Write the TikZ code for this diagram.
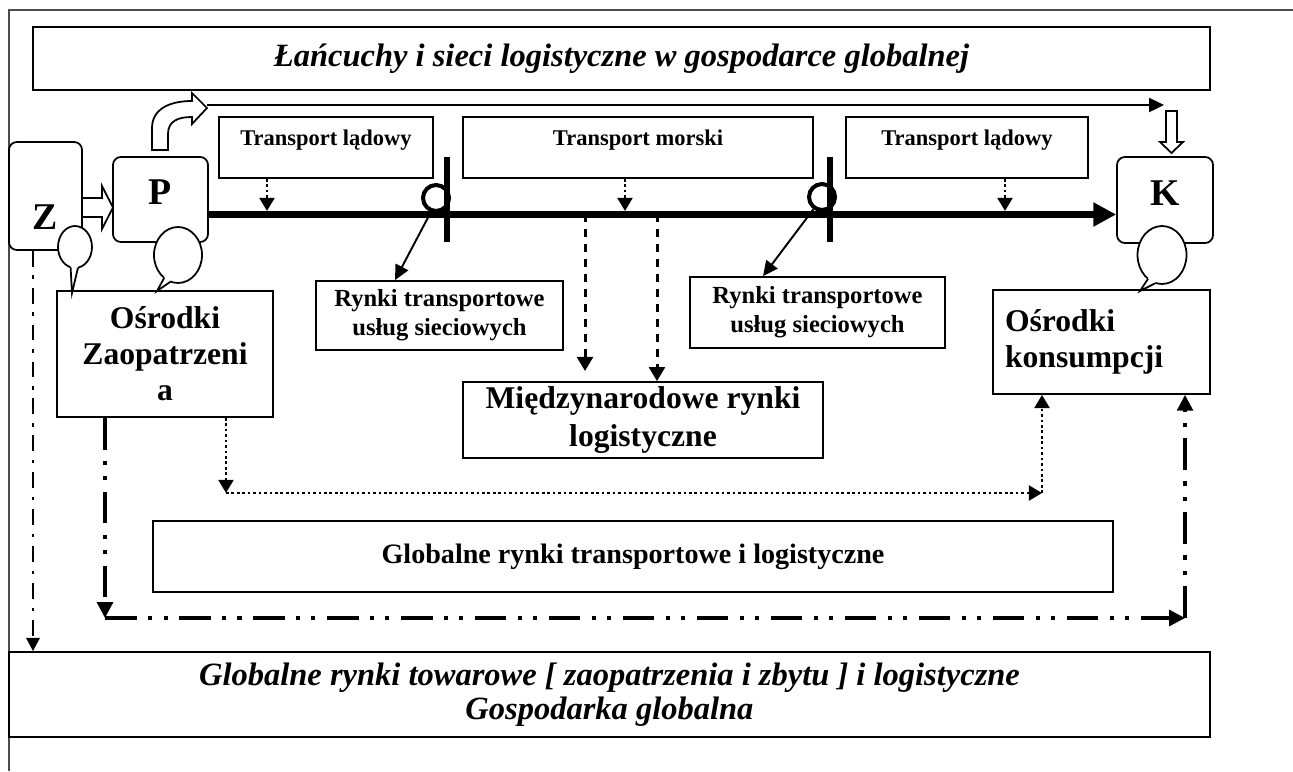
\documentclass[tikz,border=0pt]{standalone}
\usepackage{fontspec}
\setmainfont{Liberation Serif}
\usetikzlibrary{arrows.meta, positioning, calc}

\begin{document}
\begin{tikzpicture}[x=0.02cm, y=-0.02cm,
  wh/.style 2 args={minimum width=#1*0.02cm, minimum height=#2*0.02cm},
  box/.style={draw, line width=1pt, inner sep=0pt, align=center},
  rbox/.style={box, rounded corners=4.5pt, font=\bfseries\fontsize{21.5}{24}\selectfont},
  small/.style={font=\bfseries\fontsize{12.8}{16}\selectfont},
  mid/.style={font=\bfseries\fontsize{14}{16.5}\selectfont},
  big/.style={font=\bfseries\fontsize{18}{20.5}\selectfont},
  hollow/.style={draw, line width=1pt, fill=white},
  bubble/.style={draw, line width=1pt, fill=white},
  thinarrow/.style={line width=1.1pt, -{Triangle[length=8.5pt, width=8pt]}},
  dotarrow/.style={line width=1.5pt, dash pattern=on 1.5pt off 1.6pt, -{Triangle[length=7.5pt, width=8.5pt]}},
  dasharrow/.style={line width=1.7pt, dash pattern=on 4.5pt off 4pt, -{Triangle[length=8pt, width=9pt]}},
  ddarrow/.style={line width=1.8pt, dash pattern=on 18pt off 6.5pt on 2.3pt off 6.5pt on 2.3pt off 6.5pt, -{Triangle[length=9pt, width=9pt]}},
  zarrow/.style={line width=1.5pt, dash pattern=on 9pt off 5pt on 2pt off 5pt, -{Triangle[length=7.5pt, width=7.5pt]}},
  loopc/.style={circle, draw, line width=2.3pt, minimum size=0.52cm, inner sep=0pt},
  bar/.style={line width=3.4pt}
]
\useasboundingbox (0,0) rectangle (1293,771);
% page frame
\draw[black!70, line width=0.6pt] (9,771) -- (9,10) -- (1293,10);

% title and bottom boxes
\node[box, wh={1177}{63}, font=\bfseries\itshape\fontsize{18.5}{21}\selectfont] (title) at (621.5,58.5)
  {Łańcuchy i sieci logistyczne w gospodarce globalnej};
\node[box, wh={1201}{85}, font=\bfseries\itshape\fontsize{18.5}{19}\selectfont] (gtow) at (609.5,694.5)
  {Globalne rynki towarowe [ zaopatrzenia i zbytu ] i logistyczne\\Gospodarka globalna};

% Z, P, K
\node[rbox, wh={73}{108}, text height=40pt, text depth=1.4pt] (zbox) at (45.5,196) {Z};
\node[rbox, wh={95}{85}, text height=14.2pt, text depth=8pt] (pbox) at (160.5,199.5) {P};
\node[rbox, wh={96}{86}, text height=14.2pt, text depth=8pt] (kbox) at (1165,200) {K};

% transport
\node[box, small, wh={214}{61}, text height=9pt, text depth=11.5pt] (tl1) at (326,147.5) {Transport lądowy};
\node[box, small, wh={350}{61}, text height=9pt, text depth=11.5pt] (tm) at (638,147.5) {Transport morski};
\node[box, small, wh={242}{61}, text height=9pt, text depth=11.5pt] (tl2) at (967,147.5) {Transport lądowy};

% markets
\node[box, mid, wh={247}{69}] (rt1) at (439.5,315.5) {Rynki transportowe\\usług sieciowych};
\node[box, mid, wh={255}{71}] (rt2) at (817.5,312.5) {Rynki transportowe\\usług sieciowych};
\node[box, big, wh={216}{126}] (oz) at (165,354) {Ośrodki\\Zaopatrzeni\\a};
\node[box, big, wh={217}{104}, text width=3.86cm, align=left] (ok) at (1101.5,342) {Ośrodki\\konsumpcji};
\node[box, big, wh={360}{76}, font=\bfseries\fontsize{18}{21.5}\selectfont] (mr) at (643,420) {Międzynarodowe rynki\\logistyczne};
\node[box, wh={960}{71}, font=\bfseries\fontsize{16}{19}\selectfont] (grt) at (633,556.5) {Globalne rynki transportowe i logistyczne};

% main line
\coordinate (mainL) at ($(pbox.east)+(0,15)$);
\coordinate (mainR) at ($(kbox.west)+(0,14.5)$);
\draw[line width=4pt, -{Triangle[length=13pt, width=13pt]}] (mainL) -- (mainR);

% junctions
\draw[bar] (447,157) -- (447,242);
\draw[bar] (830,157) -- (830,242);
\node[loopc] (j1) at (436,198) {};
\node[loopc] (j2) at (822,197) {};
\draw[thinarrow] (j1.250) -- (rt1.north -| 395,0);
\draw[thinarrow] (j2.235) -- (rt2.north -| 763,0);

% transport to line
\draw[dotarrow, shorten >=2pt] (tl1.south -| 267,0) -- (mainL -| 267,0);
\draw[dotarrow, shorten >=2pt] (tm.south -| 625,0) -- (mainL -| 625,0);
\draw[dotarrow, shorten >=2pt] (tl2.south -| 1005,0) -- (mainL -| 1005,0);

% line to international markets
\coordinate (m1) at (585,371);
\draw[dasharrow] (mainL -| m1) -- (m1);
\draw[dasharrow] (mainL -| 657,0) -- (mr.north -| 657,0);

% hollow arrows
\draw[hollow] (82,198) -- (102,198) -- (102,186) -- (113,207.5) -- (102,229) -- (102,217) -- (82,217) -- cycle;
\draw[hollow] (152,150) -- (152,128) .. controls (152,110) and (168,101) .. (192,101) -- (192,93)
  -- (207,108) -- (192,124) -- (192,117) .. controls (178,117) and (168,121) .. (168,134) -- (168,150) -- cycle;
\draw[hollow] (1166,111) -- (1177,111) -- (1177,142) -- (1183,142) -- (1171.5,153) -- (1160,142) -- (1166,142) -- cycle;
\coordinate (ptip) at (207,105);
\draw[thinarrow] (ptip) -- (ptip -| 1164,0);

% bubbles
\draw[bubble] (75,247) ellipse [x radius=0.34cm, y radius=0.42cm];
\fill[white] (70.6,267.3) -- (72,293) -- (78,267.7) -- (77,263) -- (71,263) -- cycle;
\draw[line width=1pt] (70.6,267.3) -- (72,293) -- (78,267.7);
\draw[bubble] (178,255) ellipse [x radius=0.48cm, y radius=0.56cm];
\fill[white] (164.2,277.9) -- (157,291) -- (170.6,281.6) -- (171,277) -- (166,274) -- cycle;
\draw[line width=1pt] (164.2,277.9) -- (157,291) -- (170.6,281.6);
\draw[bubble] (1162,255) ellipse [x radius=0.49cm, y radius=0.58cm];
\fill[white] (1148,278.8) -- (1140,291) -- (1155.7,283) -- (1156,278) -- (1150,275) -- cycle;
\draw[line width=1pt] (1148,278.8) -- (1140,291) -- (1155.7,283);

% flows below
\coordinate (d1) at (226,493);
\coordinate (d2) at (1042,493);
\draw[dotarrow] (oz.south -| d1) -- (d1);
\draw[dotarrow] (d1) -- (d2);
\draw[dotarrow] (d2) -- (ok.south -| d2);
\coordinate (c1) at (105,618);
\coordinate (c2) at (1185,618);
\draw[ddarrow] (oz.south -| c1) -- (c1);
\draw[ddarrow] (c1) -- (c2);
\draw[ddarrow] (c2) -- (ok.south -| c2);
\coordinate (z1) at (33,0);
\draw[zarrow] (zbox.south -| z1) -- (gtow.north -| z1);
\end{tikzpicture}
\end{document}
